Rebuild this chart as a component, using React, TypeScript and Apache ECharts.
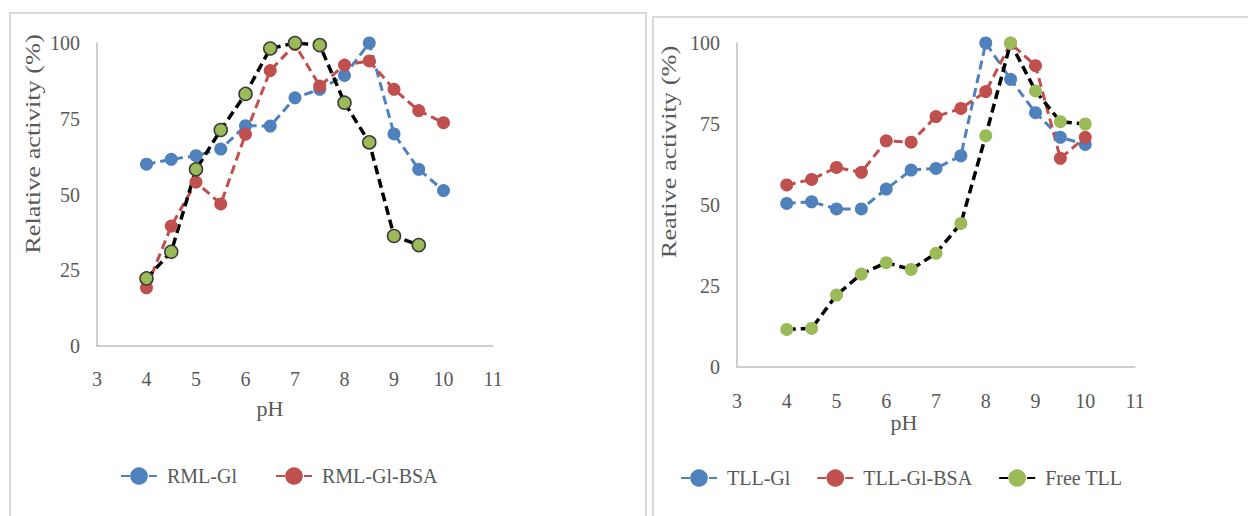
import React, { useEffect, useRef } from "react";
import * as echarts from "echarts";

const phValues = [4, 4.5, 5, 5.5, 6, 6.5, 7, 7.5, 8, 8.5, 9, 9.5, 10];
const rmlGl = [60.0, 61.6, 62.8, 65.0, 72.7, 72.6, 81.9, 84.7, 89.3, 100, 70.0, 58.3, 51.3];
const rmlGlBsa = [19.2, 39.6, 54.1, 46.9, 69.9, 90.9, 99.5, 85.8, 92.7, 94.1, 84.7, 77.7, 73.7];
const freeRml = [22.3, 31.1, 58.3, 71.3, 83.2, 98.2, 100, 99.3, 80.3, 67.2, 36.3, 33.3];
const tllGl = [50.5, 51.0, 48.8, 48.8, 54.9, 60.8, 61.3, 65.2, 100, 88.8, 78.5, 70.9, 68.7];
const tllGlBsa = [56.2, 57.9, 61.6, 60.1, 69.8, 69.4, 77.3, 79.8, 85.0, 99.9, 93.0, 64.4, 70.9];
const freeTll = [11.6, 11.9, 22.2, 28.7, 32.2, 30.1, 35.1, 44.3, 71.4, 100, 85.2, 75.7, 75.0];

const xMin = 3;
const xMax = 11;
const xStep = 1;
const yMin = 0;
const yMax = 100;
const yStep = 25;

const leftLegend = ["RML-Gl", "RML-Gl-BSA"];
const rightLegend = ["TLL-Gl", "TLL-Gl-BSA", "Free TLL"];

const BLUE = "#4F81BD";
const RED = "#C0504D";
const GREEN = "#9BBB59";
const TEXT = "#595959";
const FONT = '"Liberation Serif", "Times New Roman", serif';

const pairs = (vals: number[]) => vals.map((v, i) => [phValues[i], v]);

const mkSeries = (
  name: string,
  vals: number[],
  color: string,
  lineColor: string,
  idx: number,
  border?: string
) => ({
  type: "line",
  name,
  xAxisIndex: idx,
  yAxisIndex: idx,
  data: pairs(vals),
  symbol: "circle",
  symbolSize: 13,
  itemStyle: {
    color,
    borderColor: border || color,
    borderWidth: border ? 1.5 : 0,
  },
  lineStyle: {
    color: lineColor,
    width: lineColor === "#000000" ? 3.5 : 3,
    type: [9, 5],
  },
  emphasis: { disabled: true },
});

const xAxisBase = (gridIndex: number, margin: number) => ({
  type: "value",
  gridIndex,
  min: xMin,
  max: xMax,
  interval: xStep,
  axisLine: { show: true, onZero: false, lineStyle: { color: "#BFBFBF", width: 1.5 } },
  axisTick: { show: false },
  splitLine: { show: false },
  axisLabel: { color: TEXT, fontFamily: FONT, fontSize: 20, margin },
});

const yAxisBase = (gridIndex: number) => ({
  type: "value",
  gridIndex,
  min: yMin,
  max: yMax,
  interval: yStep,
  axisLine: { show: true, onZero: false, lineStyle: { color: "#BFBFBF", width: 1.5 } },
  axisTick: { show: false },
  splitLine: { show: false },
  axisLabel: { color: TEXT, fontFamily: FONT, fontSize: 20, margin: 17 },
});

const legendBase = (data: string[], left: number, top: number, gap: number) => ({
  data,
  left,
  top,
  padding: 0,
  orient: "horizontal",
  itemWidth: 36,
  itemHeight: 22,
  itemGap: gap,
  selectedMode: false,
  textStyle: { color: TEXT, fontFamily: FONT, fontSize: 20, padding: [0, 0, 0, 5] },
});

export default function App() {
  const ref = useRef<HTMLDivElement>(null);
  useEffect(() => {
    if (!ref.current) return;
    const chart = echarts.init(ref.current, undefined, { renderer: "svg" });
    chart.setOption({
      animation: false,
      backgroundColor: "#ffffff",
      grid: [
        { left: 97, top: 43, width: 396, height: 303 },
        { left: 737, top: 43, width: 398, height: 324 },
      ],
      xAxis: [xAxisBase(0, 23), xAxisBase(1, 24)],
      yAxis: [yAxisBase(0), yAxisBase(1)],
      legend: [legendBase(leftLegend, 120, 466, 38), legendBase(rightLegend, 680, 468, 26)],
      graphic: [
        {
          type: "rect",
          shape: { x: 10, y: 13, width: 636, height: 520 },
          style: { fill: "none", stroke: "#D9D9D9", lineWidth: 2 },
          silent: true,
        },
        {
          type: "rect",
          shape: { x: 653, y: 17, width: 620, height: 520 },
          style: { fill: "none", stroke: "#D9D9D9", lineWidth: 2 },
          silent: true,
        },
        {
          type: "text",
          x: 32,
          y: 144,
          rotation: Math.PI / 2,
          scaleX: 1.2,
          style: {
            text: "Relative activity (%)",
            fontFamily: FONT,
            fontSize: 22,
            fill: TEXT,
            align: "center",
            verticalAlign: "middle",
          },
        },
        {
          type: "text",
          x: 668,
          y: 152,
          rotation: Math.PI / 2,
          scaleX: 1.2,
          style: {
            text: "Reative activity (%)",
            fontFamily: FONT,
            fontSize: 22,
            fill: TEXT,
            align: "center",
            verticalAlign: "middle",
          },
        },
        {
          type: "text",
          x: 270,
          y: 408,
          style: {
            text: "pH",
            fontFamily: FONT,
            fontSize: 22,
            fill: TEXT,
            align: "center",
            verticalAlign: "middle",
          },
        },
        {
          type: "text",
          x: 904,
          y: 422,
          style: {
            text: "pH",
            fontFamily: FONT,
            fontSize: 22,
            fill: TEXT,
            align: "center",
            verticalAlign: "middle",
          },
        },
      ],
      series: [
        mkSeries("RML-Gl", rmlGl, BLUE, BLUE, 0),
        mkSeries("RML-Gl-BSA", rmlGlBsa, RED, RED, 0),
        mkSeries("Free RML", freeRml, GREEN, "#000000", 0, "#3A3A3A"),
        mkSeries("TLL-Gl", tllGl, BLUE, BLUE, 1),
        mkSeries("TLL-Gl-BSA", tllGlBsa, RED, RED, 1),
        mkSeries("Free TLL", freeTll, GREEN, "#000000", 1),
      ],
    });
    return () => chart.dispose();
  }, []);
  return (
    <div
      ref={ref}
      style={{ position: "fixed", left: 0, top: 0, width: 1248, height: 516 }}
    />
  );
}
